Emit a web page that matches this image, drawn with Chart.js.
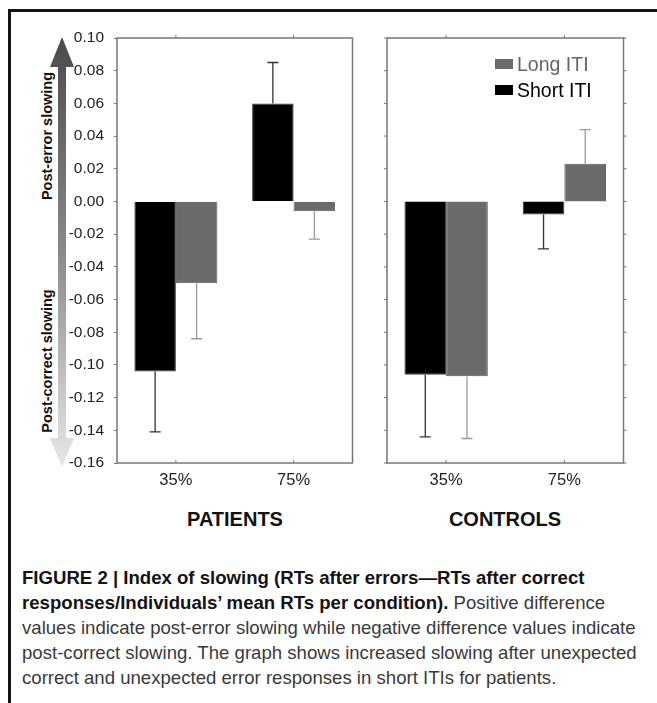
<!DOCTYPE html>
<html>
<head>
<meta charset="utf-8">
<script src="https://cdn.jsdelivr.net/npm/chart.js@4.4.1/dist/chart.umd.min.js"></script>
<style>
  html, body { margin:0; padding:0; background:#fff; }
  #wrap { position:relative; width:657px; height:703px; overflow:hidden; background:#fff; }
  #frame { position:absolute; left:8px; top:9px; width:700px; height:720px; border-left:3px solid #151515; border-top:3px solid #151515; }
  canvas { position:absolute; }
  .grp { position:absolute; top:507px; width:200px; text-align:center; font:bold 20px "Liberation Sans", Arial, sans-serif; color:#111; line-height:24px; }
  .leg { position:absolute; font:19.5px "Liberation Sans", Arial, sans-serif; line-height:22px; }
  .legbox { position:absolute; width:18px; height:10px; }
  #caption { position:absolute; left:22px; top:565px; width:640px; font-family:"Liberation Sans", Arial, sans-serif; font-size:18.6px; line-height:25px; color:#3a3a3a; white-space:nowrap; }
  #caption b { color:#141414; }
</style>
</head>
<body>
<div id="wrap">
  <div id="frame"></div>
  <svg id="arrow" width="120" height="500" style="position:absolute;left:0;top:0">
    <defs>
      <linearGradient id="g" gradientUnits="userSpaceOnUse" x1="0" y1="37" x2="0" y2="467">
        <stop offset="0" stop-color="#4a4a4a"/>
        <stop offset="0.5" stop-color="#8a8a8a"/>
        <stop offset="1" stop-color="#e8e8e8"/>
      </linearGradient>
    </defs>
    <polygon points="62,37 50,67 74,67" fill="url(#g)"/>
    <rect x="58" y="66" width="8" height="373" fill="url(#g)"/>
    <polygon points="50,438 74,438 62,467" fill="url(#g)"/>
    <text x="0" y="0" transform="translate(52,136) rotate(-90)" text-anchor="middle" font-family="Liberation Sans, Arial, sans-serif" font-weight="bold" font-size="14.5" fill="#111">Post-error slowing</text>
    <text x="0" y="0" transform="translate(52,361) rotate(-90)" text-anchor="middle" font-family="Liberation Sans, Arial, sans-serif" font-weight="bold" font-size="14.5" fill="#111">Post-correct slowing</text>
  </svg>
  <canvas id="c1" width="360" height="500" style="left:0;top:0;width:360px;height:500px"></canvas>
  <canvas id="c2" width="260" height="500" style="left:380px;top:0;width:260px;height:500px"></canvas>
  <div class="grp" style="left:135px">PATIENTS</div>
  <div class="grp" style="left:405px">CONTROLS</div>
  <div class="legbox" style="left:495px;top:59px;background:#6b6b6b"></div>
  <div class="leg" style="left:517px;top:53px;color:#666">Long ITI</div>
  <div class="legbox" style="left:495px;top:85px;background:#000"></div>
  <div class="leg" style="left:517px;top:79px;color:#000">Short ITI</div>
  <div id="caption"><b>FIGURE 2 | Index of slowing (RTs after errors—RTs after correct</b><br><b>responses/Individuals’ mean RTs per condition).</b> Positive difference<br>values indicate post-error slowing while negative difference values indicate<br>post-correct slowing. The graph shows increased slowing after unexpected<br>correct and unexpected error responses in short ITIs for patients.</div>
</div>
<script>
// ---- data ----
const categories = ['35%', '75%'];
const patientsShort = [-0.104, 0.060];
const patientsShortErr = [0.037, 0.025];
const patientsLong = [-0.050, -0.006];
const patientsLongErr = [0.034, 0.017];
const controlsShort = [-0.106, -0.008];
const controlsShortErr = [0.038, 0.021];
const controlsLong = [-0.107, 0.023];
const controlsLongErr = [0.038, 0.021];
const yMin = -0.16, yMax = 0.10, yStep = 0.02;
const seriesNames = ['Short ITI', 'Long ITI'];

const FONT = '"Liberation Sans", Arial, sans-serif';

const errorBarPlugin = {
  id: 'errbars',
  afterDatasetsDraw(chart) {
    const ctx = chart.ctx, ys = chart.scales.y;
    chart.data.datasets.forEach((ds, di) => {
      const meta = chart.getDatasetMeta(di);
      meta.data.forEach((bar, i) => {
        const v = ds.data[i], e = ds.errors[i];
        const end = v + (v >= 0 ? e : -e);
        const y1 = ys.getPixelForValue(v), y2 = ys.getPixelForValue(end);
        ctx.save();
        ctx.strokeStyle = ds.errColor;
        ctx.lineWidth = 1.3;
        ctx.beginPath();
        ctx.moveTo(bar.x, y1); ctx.lineTo(bar.x, y2);
        ctx.moveTo(bar.x - 5.5, y2); ctx.lineTo(bar.x + 5.5, y2);
        ctx.stroke();
        ctx.restore();
      });
    });
  }
};

const framePlugin = {
  id: 'frame',
  afterDraw(chart, args, opts) {
    const a = chart.chartArea, ctx = chart.ctx;
    ctx.save();
    ctx.strokeStyle = '#777';
    ctx.lineWidth = 1.5;
    ctx.strokeRect(a.left, a.top, a.right - a.left, a.bottom - a.top);
    const xs = chart.scales.x;
    ctx.lineWidth = 1;
    ctx.beginPath();
    categories.forEach((c, i) => {
      const x = xs.getPixelForValue(i);
      ctx.moveTo(x, a.top); ctx.lineTo(x, a.top - 3);
      ctx.moveTo(x, a.bottom); ctx.lineTo(x, a.bottom - 3);
    });
    if (opts.sideTicks) {
      const ys = chart.scales.y;
      for (let v = yMin; v <= yMax + 1e-9; v += yStep) {
        const y = ys.getPixelForValue(v);
        ctx.moveTo(a.left, y); ctx.lineTo(a.left - 3, y);
        ctx.moveTo(a.right, y); ctx.lineTo(a.right + 3, y);
      }
    }
    ctx.stroke();
    ctx.restore();
  }
};

function makeChart(id, shortVals, shortErr, longVals, longErr, showY, padding) {
  return new Chart(document.getElementById(id), {
    type: 'bar',
    data: {
      labels: categories,
      datasets: [
        { label: seriesNames[0], data: shortVals, errors: shortErr, errColor: '#333',
          backgroundColor: '#000', borderColor: '#3a3a3a', borderWidth: 1 },
        { label: seriesNames[1], data: longVals, errors: longErr, errColor: '#9a9a9a',
          backgroundColor: '#6b6b6b', borderColor: '#5a5a5a', borderWidth: 1 }
      ]
    },
    options: {
      responsive: false,
      animation: false,
      devicePixelRatio: 1,
      layout: { padding: padding },
      datasets: { bar: { categoryPercentage: 0.705, barPercentage: 1.0 } },
      plugins: { legend: { display: false }, tooltip: { enabled: false }, frame: { sideTicks: !showY } },
      scales: {
        x: {
          grid: { display: true, drawOnChartArea: false, drawTicks: false, offset: false },
          border: { display: false },
          ticks: { font: { family: FONT, size: 16.5 }, color: '#222', padding: 8 },
          afterFit(s) { s.height = 37; }
        },
        y: {
          display: showY,
          min: yMin, max: yMax,
          grid: { display: true, drawOnChartArea: false, drawTicks: true, tickLength: 3, color: '#777' },
          border: { display: false },
          ticks: {
            stepSize: yStep,
            font: { family: FONT, size: 15.5 }, color: '#222', padding: 10,
            callback: v => (Math.abs(v) < 1e-9 ? 0 : v).toFixed(2)
          },
          afterFit(s) { if (showY) s.width = 117; }
        }
      }
    },
    plugins: [errorBarPlugin, framePlugin]
  });
}

makeChart('c1', patientsShort, patientsShortErr, patientsLong, patientsLongErr, true,
  { top: 38, right: 7.5, left: 0, bottom: 0 });
makeChart('c2', controlsShort, controlsShortErr, controlsLong, controlsLongErr, false,
  { top: 38, right: 16.5, left: 7, bottom: 0 });
</script>
</body>
</html>
